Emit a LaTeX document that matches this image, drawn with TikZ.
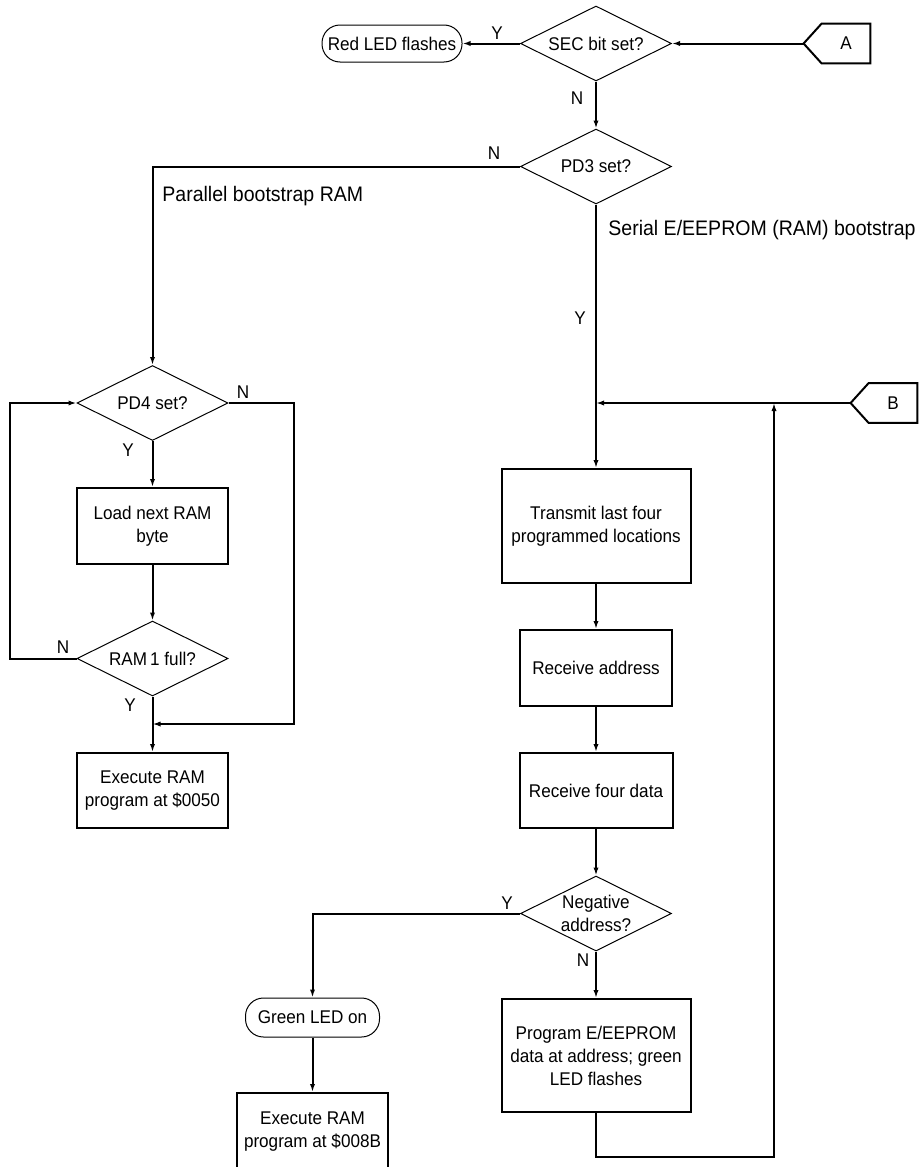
\documentclass[tikz,border=0pt]{standalone}
\usepackage{fontspec}
\setmainfont{Liberation Sans}[FakeStretch=0.93]
\usepackage{tikz}
\usetikzlibrary{shapes.geometric, arrows.meta, positioning}
\newcommand{\fcfont}{\fontsize{9.2}{11.5}\selectfont}
\newcommand{\fcnote}{\fontsize{10.5}{12.5}\selectfont}
\tikzset{
  process/.style={rectangle, draw, line width=1pt, align=center,
    inner sep=0pt, font=\fcfont},
  decision/.style={diamond, draw, line width=0.5pt, aspect=2, inner sep=0pt,
    minimum width=75.5pt, minimum height=37.5pt, align=center, font=\fcfont},
  terminal/.style={rectangle, draw, line width=0.5pt, rounded corners=9pt,
    inner sep=0pt, font=\fcfont},
  connector/.style={rectangle, minimum width=24pt, minimum height=19.5pt,
    inner sep=0pt, font=\fcfont},
  conbox/.style={line width=1pt},
  arrow/.style={-{Latex[length=4pt, width=2.6pt]}, line width=1pt},
  lbl/.style={inner sep=0pt, font=\fcfont},
  note/.style={inner sep=0pt, anchor=west, font=\fcnote}
}

\begin{document}
\begin{tikzpicture}[x=0.5pt, y=-0.5pt]
  \useasboundingbox (0,0) rectangle (918,1167);

  % Entry: security bit
  \node[decision] (sec) at (596,43.5) {SEC bit set?};
  \node[terminal, minimum width=70pt, minimum height=18.5pt] (red) at (392,43.5) {Red LED flashes};
  \node[connector] (conA) at (846,43.5) {A};
  \draw[conbox] (conA.north east) -- (conA.north west) -- ([xshift=-9pt]conA.west) coordinate (tipA)
    -- (conA.south west) -- (conA.south east) -- cycle;
  \draw[arrow] (tipA) -- (sec.east);
  \draw[arrow] (sec.west) -- (red.east);
  \node[lbl] (ySec) at (497,33) {Y};
  \node[lbl] (nSec) at (577,98) {N};

  % Mode select
  \node[decision] (pd3) at (596,166.5) {PD3 set?};
  \draw[arrow] (sec.south) -- (pd3.north);
  \node[lbl] (nPd3) at (494,153) {N};
  \node[lbl] (yPd3) at (580,318) {Y};
  \node[note] (parNote) at (162,196) {Parallel bootstrap RAM};
  \node[note] (serNote) at (608,230) {Serial E/EEPROM (RAM) bootstrap};

  % Parallel bootstrap branch
  \node[decision] (pd4) at (152.5,403) {PD4 set?};
  \node[process, minimum width=75.5pt, minimum height=38pt] (load) at (152.5,526) {Load next RAM\\byte};
  \node[decision] (ram1) at (152.5,658.5) {RAM\,1 full?};
  \node[process, minimum width=75.5pt, minimum height=37.5pt] (exec1) at (152.5,790.5) {Execute RAM\\program at \$0050};
  \coordinate (loopL) at (10,658.5);
  \coordinate (loopR) at (294,403);
  \coordinate (joinR) at (152.5,724);
  \draw[arrow] (pd3.west) -| (pd4.north);
  \draw[arrow] (pd4.south) -- (load.north);
  \draw[arrow] (load.south) -- (ram1.north);
  \draw[arrow] (ram1.south) -- (exec1.north);
  \draw[arrow] (ram1.west) -- (loopL) |- (pd4.west);
  \draw[arrow] (pd4.east) -- (loopR) |- (joinR);
  \node[lbl] (nPd4) at (243,392) {N};
  \node[lbl] (yPd4) at (128,450) {Y};
  \node[lbl] (nRam) at (63,647) {N};
  \node[lbl] (yRam) at (130,705) {Y};

  % Serial bootstrap branch
  \node[process, minimum width=94.5pt, minimum height=57pt] (xmit) at (596,526) {Transmit last four\\programmed locations};
  \node[process, minimum width=76pt, minimum height=38pt] (raddr) at (596,668) {Receive address};
  \node[process, minimum width=76.5pt, minimum height=37.5pt] (rdata) at (596,790.5) {Receive four data};
  \node[decision] (neg) at (596,913.5) {Negative\\address?};
  \node[process, minimum width=94.5pt, minimum height=56.5pt] (prog) at (596,1055.5) {Program E/EEPROM\\data at address; green\\LED flashes};
  \node[terminal, minimum width=67pt, minimum height=19.5pt] (green) at (312.5,1017.5) {Green LED on};
  \node[process, minimum width=75.5pt, minimum height=38.5pt] (exec2) at (312.5,1131.5) {Execute RAM\\program at \$008B};
  \node[connector] (conB) at (893,403) {B};
  \draw[conbox] (conB.north east) -- (conB.north west) -- ([xshift=-9pt]conB.west) coordinate (tipB)
    -- (conB.south west) -- (conB.south east) -- cycle;
  \coordinate (joinB) at (tipB -| pd3.south);
  \coordinate (loopB) at (774,1157);
  \draw[arrow] (pd3.south) -- (xmit.north);
  \draw[arrow] (tipB) -- (joinB);
  \draw[arrow] (xmit.south) -- (raddr.north);
  \draw[arrow] (raddr.south) -- (rdata.north);
  \draw[arrow] (rdata.south) -- (neg.north);
  \draw[arrow] (neg.south) -- (prog.north);
  \draw[arrow] (prog.south) |- (loopB) -- (loopB |- tipB);
  \draw[arrow] (neg.west) -| (green.north);
  \draw[arrow] (green.south) -- (exec2.north);
  \node[lbl] (yNeg) at (507,903) {Y};
  \node[lbl] (nNeg) at (583,960) {N};
\end{tikzpicture}
\end{document}
